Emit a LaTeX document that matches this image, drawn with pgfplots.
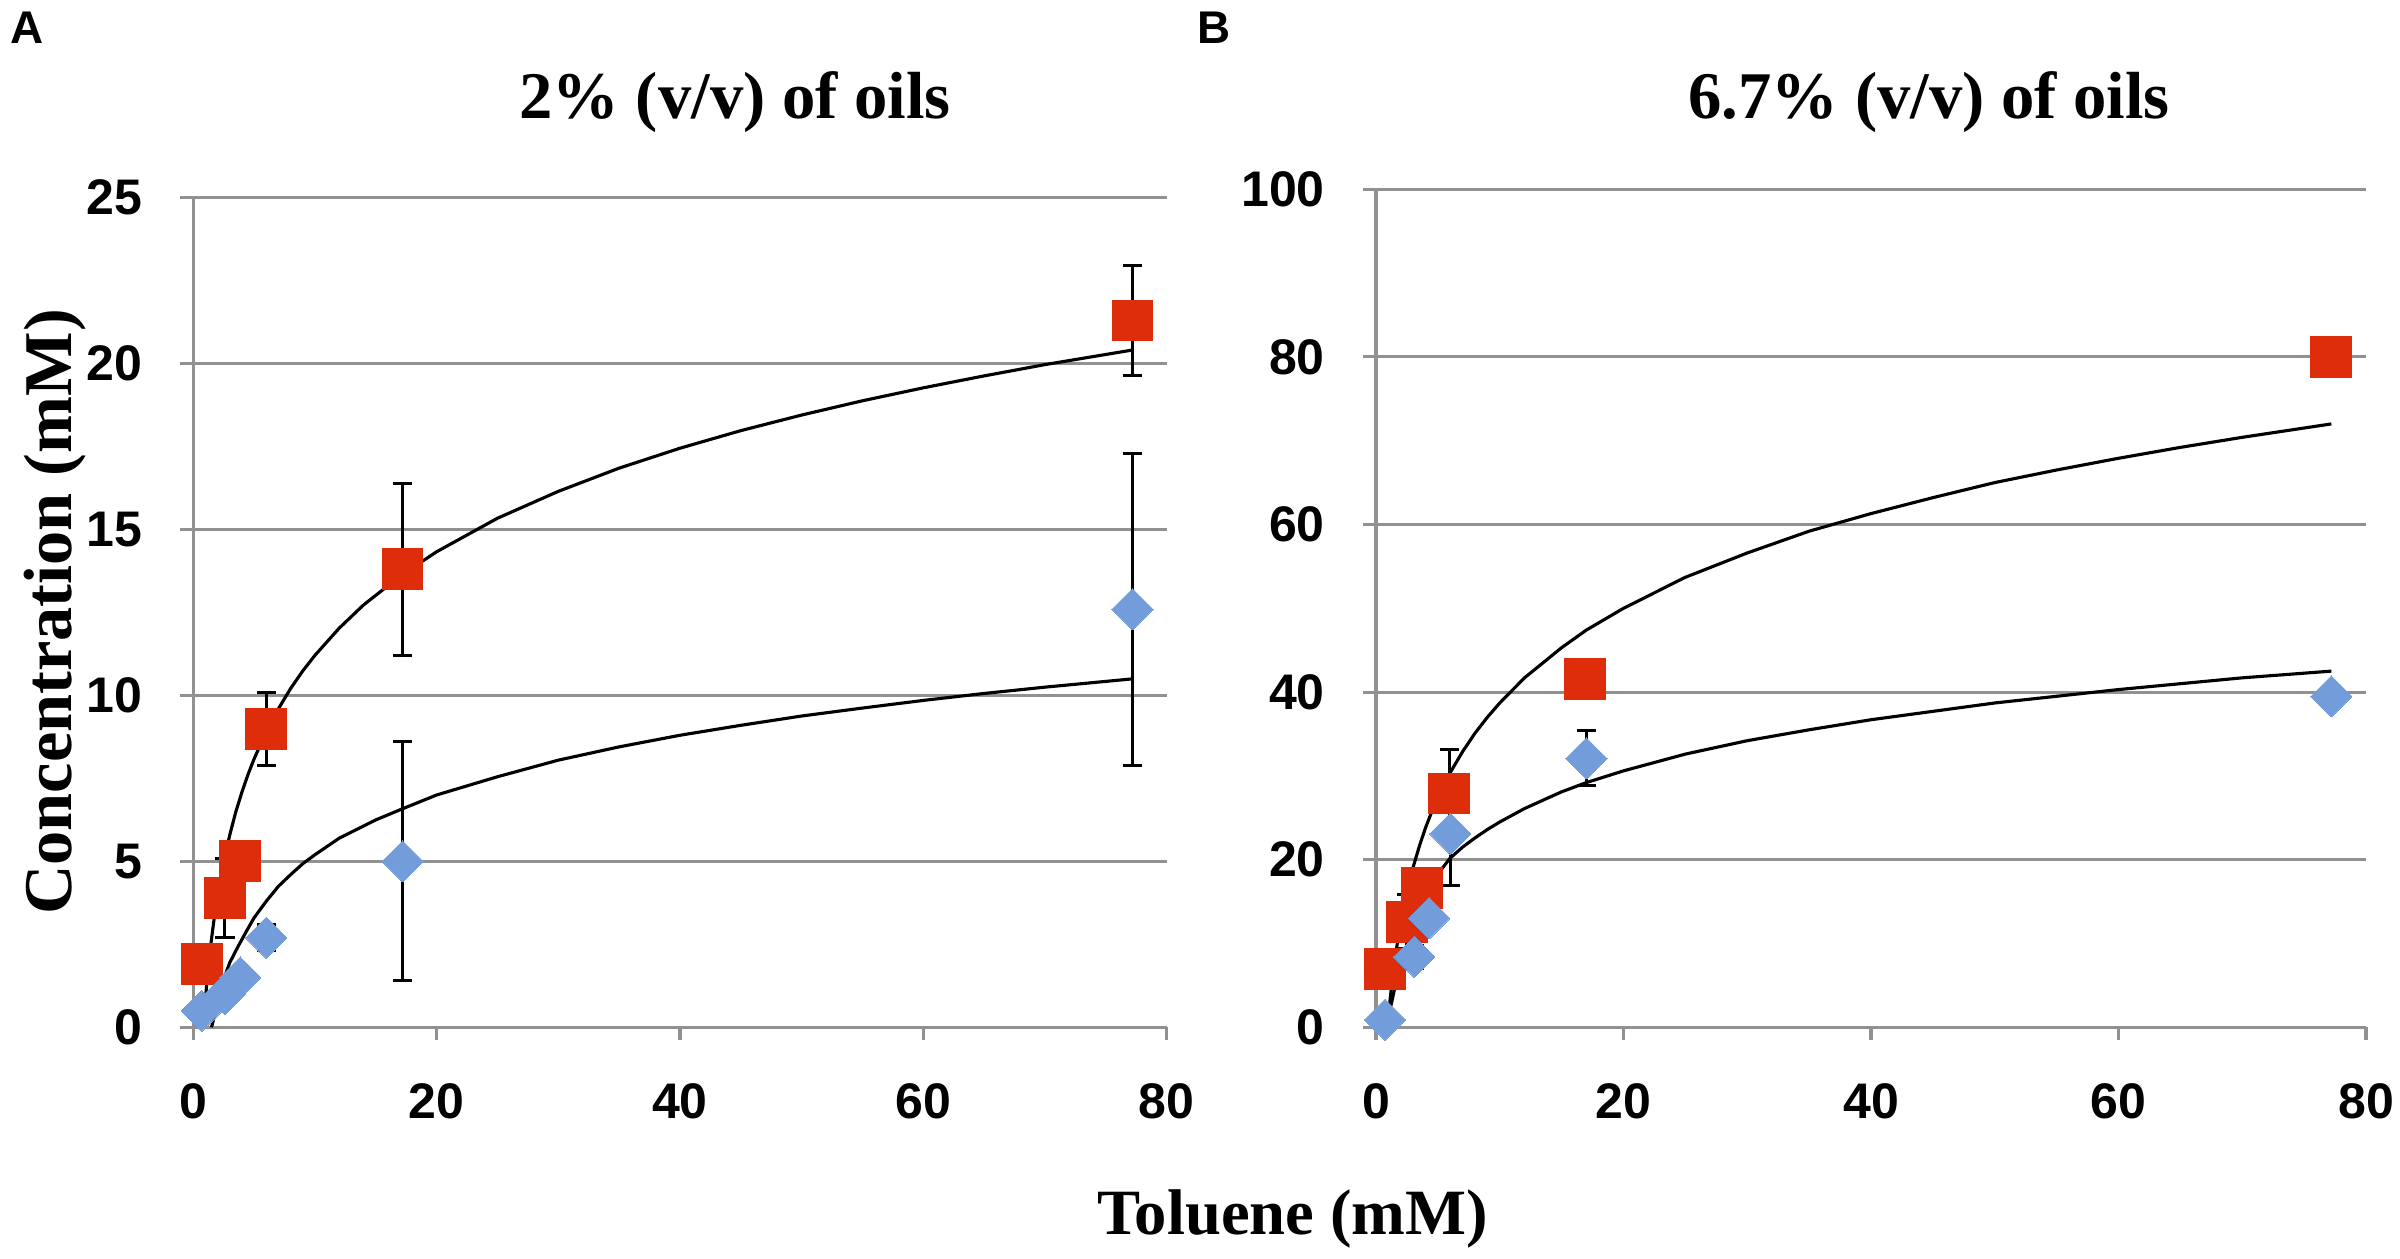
\documentclass[border=0pt]{standalone}
\usepackage{fontspec}
\setmainfont{Liberation Serif}
\newfontfamily\tickfont{Liberation Sans}
\usepackage{pgfplots}
\usepackage{pgfplotstable}
\pgfplotsset{compat=1.18}

\definecolor{mred}{RGB}{222,45,10}
\definecolor{mblue}{RGB}{115,157,218}
\definecolor{agray}{RGB}{145,145,145}

\pgfplotstableread{
x y e
0.7 1.9 0.4
2.6 3.9 1.2
3.85 5.0 0.3
6.0 9.0 1.1
17.2 13.8 2.6
77.2 21.3 1.65
}\Lred
\pgfplotstableread{
x y e
0.7 0.5 0.2
2.6 1.0 0.2
3.85 1.5 0.2
6.0 2.7 0.4
17.2 5.0 3.6
77.2 12.6 4.7
}\Lblue
\pgfplotstableread{
x y e
0.73 7.0 1.0
2.48 12.6 3.2
3.69 16.6 1.0
5.93 27.9 5.2
16.9 41.6 1.0
77.2 80.0 1.0
}\Rred
\pgfplotstableread{
x y e
0.73 0.9 0.5
3.1 8.4 1.4
4.3 13.0 0.4
6.0 23.1 6.2
17.0 32.1 3.3
77.2 39.5 1.0
}\Rblue

\pgfplotsset{
  panel/.style={
    scale only axis,
    axis x line*=bottom, axis y line*=left,
    axis line style={agray, line width=0.75pt},
    tick align=outside,
    major tick length=3.1pt,
    tick style={agray, line width=0.75pt},
    ymajorgrids=true,
    grid style={agray, line width=0.75pt},
    xmin=0, xmax=80, ymin=0,
    xtick={0,20,...,80},
    /pgf/number format/assume math mode=true,
    ticklabel style={font=\tickfont\bfseries\fontsize{12}{12}\selectfont, inner sep=0pt},
    yticklabel shift=9.0pt,
    xticklabel shift=10.2pt,
    clip=false,
  },
  redpts/.style={only marks, mark=square*, mark size=4.9pt,
    mark options={fill=mred, draw=mred, line width=0pt},
    error bars/.cd, y dir=both, y explicit,
    error bar style={black, line width=0.7pt},
    error mark options={rotate=90, mark size=2.3pt, line width=0.7pt, black}},
  bluepts/.style={only marks, mark=square*, mark size=3.5pt,
    mark options={rotate=45, fill=mblue, draw=mblue, line width=0pt},
    error bars/.cd, y dir=both, y explicit,
    error bar style={black, line width=0.7pt},
    error mark options={rotate=90, mark size=2.3pt, line width=0.7pt, black}},
  fitline/.style={black, line width=0.75pt, sharp plot, no marks, line join=round},
}

\begin{document}
\begin{tikzpicture}
\useasboundingbox (0,0) rectangle (576pt,302.16pt);

% panel letters
\node[anchor=base west, inner sep=0pt, font=\tickfont\bfseries\fontsize{11}{11}\selectfont] at (2.4pt,291.8pt) {A};
\node[anchor=base west, inner sep=0pt, font=\tickfont\bfseries\fontsize{11}{11}\selectfont] at (287.3pt,291.8pt) {B};

% titles
\node[anchor=base, inner sep=0pt, font=\bfseries\fontsize{16}{16}\selectfont] at (176.4pt,273.6pt) {2\% (v/v) of oils};
\node[anchor=base, inner sep=0pt, font=\bfseries\fontsize{16}{16}\selectfont] at (463pt,273.6pt) {6.7\% (v/v) of oils};

% axis labels
\node[rotate=90, inner sep=0pt, font=\bfseries\fontsize{16.4}{16.4}\selectfont] at (13.2pt,155.3pt) {Concentration (mM)};
\node[anchor=base, inner sep=0pt, font=\bfseries\fontsize{15.5}{15.5}\selectfont] at (310.3pt,5.8pt) {Toluene (mM)};

% ---------- panel A ----------
\begin{axis}[panel, at={(46.39pt,55.61pt)}, anchor=south west,
  width=233.6pt, height=199.1pt, ymax=25, ytick={0,5,...,25}]
\addplot+[redpts] table[x=x, y=y, y error=e] {\Lred};
\addplot+[bluepts] table[x=x, y=y, y error=e] {\Lblue};
\addplot[fitline] coordinates {
(0.85,0) (0.92,0.5) (1,0.85) (1.15,1.5) (1.32,2.1) (1.5,2.67) (1.75,3.37) (2,3.97) (2.3,4.6)
(2.61,5.17) (3,5.8) (3.5,6.5) (4,7.09) (4.5,7.62) (5,8.09) (6,8.91) (7,9.6) (8,10.21)
(9,10.74) (10,11.21) (12,12.03) (14,12.73) (17.2,13.65) (20,14.33) (25,15.34)
(30,16.15) (35,16.85) (40,17.45) (45,17.98) (50,18.45) (55,18.88) (60,19.27)
(65,19.63) (70,19.97) (77.2,20.41)};
\addplot[fitline] coordinates {
(1.5,0) (1.7,0.3) (1.92,0.6) (2.2,1.05) (2.5,1.45) (3,1.95) (3.7,2.45) (4.3,2.85) (5,3.3)
(6,3.8) (7,4.25) (8,4.6) (9,4.93) (10,5.2) (12,5.7) (15,6.25) (17.3,6.6)
(20,7.0) (25,7.55) (30,8.05) (35,8.45) (40,8.8) (45,9.1) (50,9.38) (55,9.62)
(60,9.85) (65,10.06) (70,10.25) (77.2,10.5)};
\end{axis}

% ---------- panel B ----------
\begin{axis}[panel, at={(330.24pt,55.61pt)}, anchor=south west,
  width=237.6pt, height=201.12pt, ymax=100, ytick={0,20,...,100}]
\addplot+[redpts] table[x=x, y=y, y error=e] {\Rred};
\addplot+[bluepts] table[x=x, y=y, y error=e] {\Rblue};
\addplot[fitline] coordinates {
(0.93,0) (1.08,2.45) (1.25,4.8) (1.5,7.8) (1.75,10.3) (2,12.5) (2.5,16.1) (3,19.1)
(3.5,21.6) (4,23.8) (4.5,25.7) (5,27.4) (6,30.4) (7,32.9) (8,35.1) (9,37.0)
(10,38.7) (12,41.7) (15,45.3) (17,47.4) (20,50.0) (25,53.7) (30,56.6)
(35,59.2) (40,61.3) (45,63.2) (50,65.0) (55,66.5) (60,67.9) (65,69.2)
(70,70.4) (77.2,72.0)};
\addplot[fitline] coordinates {
(0.9,0.3) (1.05,1.6) (1.27,3.0) (1.5,4.6) (1.7,6.0) (2,7.6) (2.34,9.0) (2.7,10.6) (3,12.0)
(3.4,13.5) (3.83,14.8) (4.4,16.6) (5,18.3) (6,20.2) (7,21.5) (8,22.6) (9,23.6)
(10,24.5) (12,26.1) (15,28.1) (17,29.2) (20,30.6) (25,32.6) (30,34.2)
(35,35.5) (40,36.7) (45,37.7) (50,38.7) (55,39.5) (60,40.3) (65,41.0)
(70,41.7) (77.2,42.5)};
\end{axis}
\end{tikzpicture}
\end{document}
